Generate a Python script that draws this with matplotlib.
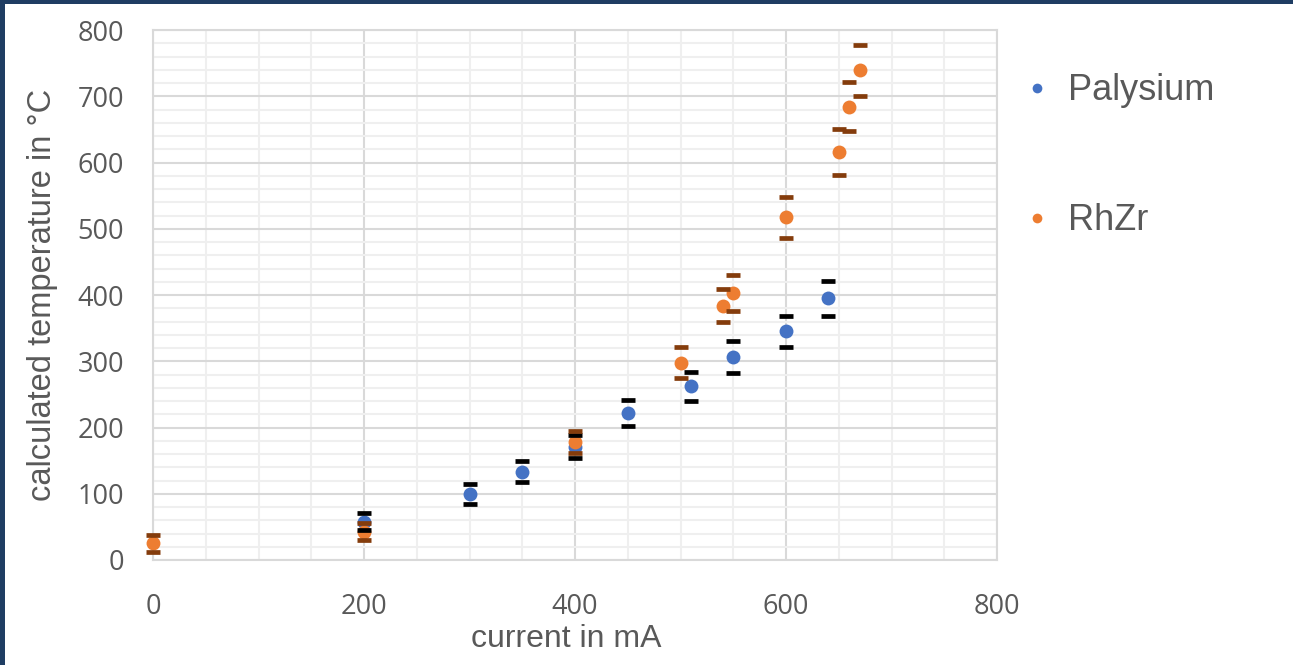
import matplotlib.pyplot as plt
from matplotlib.lines import Line2D
from matplotlib.patches import Rectangle
from matplotlib.ticker import MultipleLocator

# Palysium
pal_x = [200, 300, 350, 400, 450, 510, 550, 600, 640]
pal_y = [58, 100, 133, 171, 222, 262, 307, 345, 395]
pal_err = [13, 15, 16, 17, 19, 22, 24, 24, 26]

# RhZr
rh_x = [0, 200, 400, 500, 540, 550, 600, 650, 660, 670]
rh_y = [25, 43, 178, 298, 384, 403, 517, 616, 684, 739]
rh_err = [13, 13, 17, 23, 25, 27, 31, 35, 37, 39]

blue = '#4472C4'
orange = '#ED7D31'
tick_col = '#595959'

fig = plt.figure(figsize=(12.93, 6.65), dpi=100, facecolor='#1f3d63')
fig.patches.append(Rectangle((5 / 1293, 0), 1, 1 - 4 / 665, transform=fig.transFigure,
                             facecolor='white', edgecolor='none', zorder=-5))

ax = fig.add_axes([153 / 1293, 105 / 665, 844 / 1293, 530 / 665])
ax.set_facecolor('white')

for x, y, e, c, cap in [(pal_x, pal_y, pal_err, blue, 'black'),
                        (rh_x, rh_y, rh_err, orange, '#843C0C')]:
    ax.scatter(x, y, s=100, color=c, zorder=3, linewidths=0, clip_on=False)
    eb = ax.errorbar(x, y, yerr=e, fmt='none', ecolor=cap, capsize=5.0,
                     capthick=3.4, zorder=4)
    for cl in eb[1]:
        cl.set_clip_on(False)
    for col in eb[2]:
        col.set_visible(False)

ax.set_xlim(0, 800)
ax.set_ylim(0, 800)
ax.xaxis.set_major_locator(MultipleLocator(200))
ax.xaxis.set_minor_locator(MultipleLocator(50))
ax.yaxis.set_major_locator(MultipleLocator(100))
ax.yaxis.set_minor_locator(MultipleLocator(20))
ax.grid(which='minor', color='#efefef', linewidth=1.5, zorder=0)
ax.grid(which='major', color='#d9d9d9', linewidth=1.5, zorder=1)
ax.set_axisbelow(True)
for s in ax.spines.values():
    s.set_color('#d9d9d9')
    s.set_linewidth(1.5)

ax.tick_params(which='both', length=0)
ax.tick_params(axis='x', pad=24, labelcolor=tick_col)
ax.tick_params(axis='y', pad=21, labelcolor=tick_col)
for lab in ax.get_xticklabels() + ax.get_yticklabels():
    lab.set_fontfamily('Open Sans')
    lab.set_fontsize(19.5)

ax.set_xlabel('current in mA', fontsize=23, color=tick_col,
              family='Liberation Sans')
ax.set_ylabel('calculated temperature in °C', fontsize=23.5, color=tick_col,
              family='Liberation Sans')
ax.xaxis.set_label_coords(413 / 844, -64 / 530)
ax.yaxis.set_label_coords(-95 / 844, 0.5)

handles = [Line2D([], [], ls='none', marker='o', ms=7, color=blue, mec='none'),
           Line2D([], [], ls='none', marker='o', ms=7, color=orange, mec='none')]
fig.legend(handles, ['Palysium', 'RhZr'], loc='upper left',
           bbox_to_anchor=(986 / 1293, 1 - 41 / 665), frameon=False,
           prop={'family': 'Liberation Sans', 'size': 26}, labelcolor=tick_col,
           labelspacing=2.63, handletextpad=0.38, handlelength=1.0)

fig.savefig('out.png', dpi=100, facecolor=fig.get_facecolor())
